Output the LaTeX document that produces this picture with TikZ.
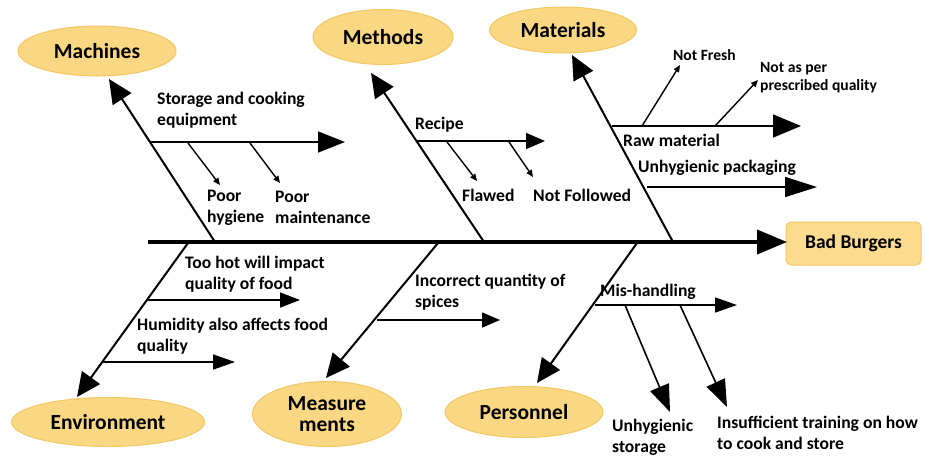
\documentclass[tikz,border=0pt]{standalone}
\usepackage{fontspec}
\setmainfont{Carlito}
\usetikzlibrary{arrows.meta,shapes.geometric}

\definecolor{catfill}{RGB}{250,215,130}
\definecolor{catline}{RGB}{242,198,96}
\definecolor{headfill}{RGB}{251,219,142}

\tikzset{
  cat/.style={ellipse, fill=catfill, draw=catline, line width=1pt, inner sep=0pt,
              font=\bfseries\fontsize{21.5}{23}\selectfont, align=center},
  note/.style={inner sep=0pt, align=left, font=\bfseries\fontsize{17.6}{21}\selectfont},
  tiny/.style={font=\bfseries\fontsize{15.6}{18}\selectfont},
  spine/.style={line width=4pt, -{Triangle[length=30pt,width=24pt]}},
  bone/.style={line width=2pt, -{Triangle[length=24pt,width=22pt]}},
  twig/.style={line width=1.6pt},
  small/.style={line width=1.4pt, -{Triangle[length=7pt,width=6pt]}}
}

\begin{document}
\begin{tikzpicture}[x=1pt,y=-1pt]
\useasboundingbox (0,0) rectangle (926,459);

% effect box
\node[draw=catline, fill=headfill, line width=1pt, rounded corners=5pt,
      minimum width=135pt, minimum height=43pt,
      font=\bfseries\fontsize{19.5}{22}\selectfont] (head) at (853.5,243.5) {Bad Burgers};

% category ellipses
\node[cat, minimum width=158pt, minimum height=50pt] (mach) at (97,51) {Machines};
\node[cat, minimum width=140pt, minimum height=55pt] (meth) at (383,37) {Methods};
\node[cat, minimum width=147pt, minimum height=46pt] (mate) at (563,30) {Materials};
\node[cat, minimum width=193pt, minimum height=49pt] (envi) at (108,422) {Environment};
\node[cat, minimum width=149pt, minimum height=65pt] (meas) at (327,414) {Measure\\[-2pt]ments};
\node[cat, minimum width=158pt, minimum height=51pt] (pers) at (524,412) {Personnel};

% spine
\coordinate (s0) at (148,242);
\coordinate (s1) at (787,242);
\draw[spine] (s0) -- (s1);

% main bones
\coordinate (bMach) at (215,242);  \coordinate (tMach) at (109,79);
\coordinate (bMeth) at (484,242);  \coordinate (tMeth) at (371,73);
\coordinate (bMate) at (673,242);  \coordinate (tMate) at (572,55);
\coordinate (bEnvi) at (188,243);  \coordinate (tEnvi) at (77,397);
\coordinate (bMeas) at (438,243);  \coordinate (tMeas) at (326,378);
\coordinate (bPers) at (637,243);  \coordinate (tPers) at (537,383);
\draw[bone] (bMach) -- (tMach);
\draw[bone] (bMeth) -- (tMeth);
\draw[bone] (bMate) -- (tMate);
\draw[bone] (bEnvi) -- (tEnvi);
\draw[bone] (bMeas) -- (tMeas);
\draw[bone] (bPers) -- (tPers);

% Machines
\coordinate (m0) at (151,142); \coordinate (m1) at (345,142);
\draw[twig, -{Triangle[length=27pt,width=21pt]}] (m0) -- (m1);
\node[note, anchor=west] (mTxt) at (157,110.5) {Storage and cooking\\equipment};
\coordinate (m2) at (188,143); \coordinate (m3) at (220,185);
\coordinate (m4) at (250,143); \coordinate (m5) at (280,183);
\draw[small] (m2) -- (m3);
\draw[small] (m4) -- (m5);
\node[note, anchor=west] (mH) at (207,207.5) {Poor\\hygiene};
\node[note, anchor=west] (mM) at (275,207.5) {Poor\\maintenance};

% Methods
\coordinate (r0) at (416,141); \coordinate (r1) at (545,141);
\draw[twig, -{Triangle[length=19pt,width=16pt]}] (r0) -- (r1);
\node[note, anchor=west] (rTxt) at (415,125) {Recipe};
\coordinate (r2) at (447,142); \coordinate (r3) at (477,181);
\coordinate (r4) at (509,142); \coordinate (r5) at (533,177);
\draw[small] (r2) -- (r3);
\draw[small] (r4) -- (r5);
\node[note, anchor=west] (rF) at (462,195) {Flawed};
\node[note, anchor=west] (rN) at (533,195) {Not Followed};

% Materials
\coordinate (w0) at (612,126); \coordinate (w1) at (801,126);
\draw[twig, -{Triangle[length=28pt,width=23pt]}] (w0) -- (w1);
\node[note, anchor=west] (wTxt) at (623,140) {Raw material};
\coordinate (w2) at (642,126); \coordinate (w3) at (680,65);
\coordinate (w4) at (715,126); \coordinate (w5) at (758,80);
\draw[small] (w2) -- (w3);
\draw[small] (w4) -- (w5);
\node[note, tiny, anchor=west] (wF) at (673,55) {Not Fresh};
\node[note, tiny, anchor=west] (wQ) at (760,78) {Not as per\\prescribed quality};
\coordinate (w6) at (647,187); \coordinate (w7) at (817,187);
\draw[twig, -{Triangle[length=32pt,width=20pt]}] (w6) -- (w7);
\node[note, anchor=west] (wP) at (638,168) {Unhygienic packaging};

% Environment
\coordinate (e0) at (148,300); \coordinate (e1) at (300,300);
\draw[twig, -{Triangle[length=20pt,width=15pt]}] (e0) -- (e1);
\node[note, anchor=west] (eH) at (185,274.5) {Too hot will impact\\quality of food};
\coordinate (e2) at (103,362); \coordinate (e3) at (235,362);
\draw[twig, -{Triangle[length=22pt,width=15pt]}] (e2) -- (e3);
\node[note, anchor=west] (eU) at (137,336.5) {Humidity also affects food\\quality};

% Measurements
\coordinate (q0) at (377,320); \coordinate (q1) at (500,320);
\draw[twig, -{Triangle[length=18pt,width=15pt]}] (q0) -- (q1);
\node[note, anchor=west] (qTxt) at (415,292.5) {Incorrect quantity of\\spices};

% Personnel
\coordinate (p0) at (595,305); \coordinate (p1) at (737,305);
\draw[twig, -{Triangle[length=22pt,width=15pt]}] (p0) -- (p1);
\node[note, anchor=west] (pTxt) at (600,292) {Mis-handling};
\coordinate (p2) at (625,305); \coordinate (p3) at (670,412);
\coordinate (p4) at (680,305); \coordinate (p5) at (727,407);
\draw[twig, -{Triangle[length=27pt,width=20pt]}] (p2) -- (p3);
\draw[twig, -{Triangle[length=27pt,width=20pt]}] (p4) -- (p5);
\node[note, anchor=west] (pS) at (612,437.5) {Unhygienic\\storage};
\node[note, anchor=west] (pT) at (717,432.5) {Insufficient training on how\\to cook and store};
\end{tikzpicture}
\end{document}
